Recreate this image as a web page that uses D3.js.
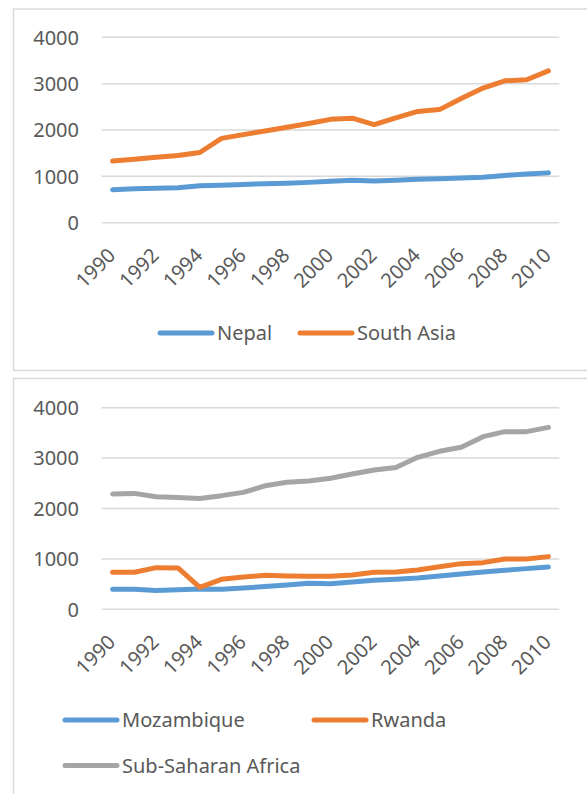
<!DOCTYPE html>
<html>
<head>
<meta charset="utf-8">
<script src="https://cdn.jsdelivr.net/npm/d3@7"></script>
<style>
  body { margin: 0; background: #fff; }
  text { font-family: "Noto Sans", sans-serif; fill: #595959; }
</style>
</head>
<body>
<svg></svg>
<script>
const width = 587;
const height = 794;

const years = d3.range(1990, 2011).map(String);
const yTicks = [0, 1000, 2000, 3000, 4000];

const nepal = [712, 730, 745, 755, 795, 810, 825, 840, 850, 870, 895, 915, 900, 915, 935, 950, 965, 980, 1020, 1050, 1075];
const southAsia = [1330, 1370, 1410, 1450, 1515, 1820, 1900, 1980, 2060, 2140, 2230, 2255, 2115, 2260, 2400, 2440, 2680, 2905, 3060, 3085, 3275];

const mozambique = [397, 397, 375, 390, 403, 397, 423, 450, 483, 516, 509, 542, 575, 595, 621, 661, 701, 740, 774, 807, 840];
const rwanda = [734, 734, 826, 820, 436, 595, 641, 674, 661, 655, 655, 681, 734, 740, 780, 846, 906, 926, 998, 998, 1045];
const subSaharan = [2290, 2300, 2235, 2220, 2200, 2255, 2320, 2450, 2520, 2545, 2600, 2685, 2765, 2815, 3015, 3135, 3215, 3425, 3525, 3525, 3610];

const blue = "#5b9bd5", orange = "#ed7d31", gray = "#a5a5a5";

const svg = d3.select("svg").attr("width", width).attr("height", height);

// chart frames
svg.append("rect").attr("x", 13.5).attr("y", 9).attr("width", 600).attr("height", 361.5)
  .attr("fill", "none").attr("stroke", "#d9d9d9").attr("stroke-width", 1.5);
svg.append("rect").attr("x", 13.5).attr("y", 378.5).attr("width", 600).attr("height", 440)
  .attr("fill", "none").attr("stroke", "#d9d9d9").attr("stroke-width", 1.5);

function drawChart(top, bottom, series, legend) {
  const x = d3.scalePoint().domain(years).range([101.7, 559.3]).padding(0.5);
  const y = d3.scaleLinear().domain([0, 4000]).range([bottom, top]);

  const g = svg.append("g");

  g.append("g").selectAll("line").data(yTicks).enter().append("line")
    .attr("x1", 101.7).attr("x2", 559.3)
    .attr("y1", d => y(d)).attr("y2", d => y(d))
    .attr("stroke", "#d9d9d9").attr("stroke-width", 1.5);

  g.append("g").selectAll("text").data(yTicks).enter().append("text")
    .attr("x", 79).attr("y", d => y(d)).attr("dy", "0.36em")
    .attr("text-anchor", "end").style("font-size", "20px")
    .text(d => d);

  g.append("g").selectAll("text").data(years.filter((d, i) => i % 2 === 0)).enter().append("text")
    .attr("text-anchor", "end").style("font-size", "20px")
    .attr("transform", d => `translate(${x(d) + 4},${bottom + 34}) rotate(-45)`)
    .text(d => d);

  const line = d3.line().x((d, i) => x(years[i])).y(d => y(d));

  series.forEach(s => {
    g.append("path").datum(s.values)
      .attr("d", line)
      .attr("fill", "none").attr("stroke", s.color).attr("stroke-width", 5)
      .attr("stroke-linecap", "round").attr("stroke-linejoin", "round");
  });

  legend.forEach(l => {
    const s = series[l.i];
    g.append("line").attr("x1", l.x).attr("x2", l.x + 52).attr("y1", l.y).attr("y2", l.y)
      .attr("stroke", s.color).attr("stroke-width", 5).attr("stroke-linecap", "round");
    g.append("text").attr("x", l.x + 57).attr("y", l.y).attr("dy", "0.35em")
      .style("font-size", "20px").text(s.name);
  });
}

drawChart(37.3, 222.7,
  [{ name: "Nepal", values: nepal, color: blue }, { name: "South Asia", values: southAsia, color: orange }],
  [{ i: 0, x: 160, y: 333 }, { i: 1, x: 300, y: 333 }]);

drawChart(407.7, 609.3,
  [{ name: "Mozambique", values: mozambique, color: blue }, { name: "Rwanda", values: rwanda, color: orange }, { name: "Sub-Saharan Africa", values: subSaharan, color: gray }],
  [{ i: 0, x: 65, y: 720 }, { i: 1, x: 314, y: 720 }, { i: 2, x: 65, y: 765.5 }]);
</script>
</body>
</html>
